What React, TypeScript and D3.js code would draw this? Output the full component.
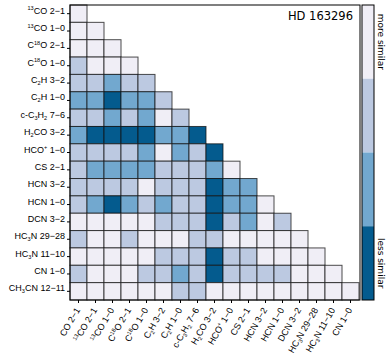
import React, { useEffect, useRef } from "react";
import * as d3 from "d3";

// molecule labels, ^{..} = superscript, _{..} = subscript
const rowLabels = [
  "^{13}CO 2−1", "^{13}CO 1−0", "C^{18}O 2−1", "C^{18}O 1−0",
  "C_{2}H 3−2", "C_{2}H 1−0", "c-C_{3}H_{2} 7−6", "H_{2}CO 3−2",
  "HCO^{+} 1−0", "CS 2−1", "HCN 3−2", "HCN 1−0", "DCN 3−2",
  "HC_{3}N 29−28", "HC_{3}N 11−10", "CN 1−0", "CH_{3}CN 12−11",
];
const colLabels = [
  "CO 2−1", "^{13}CO 2−1", "^{13}CO 1−0", "C^{18}O 2−1", "C^{18}O 1−0",
  "C_{2}H 3−2", "C_{2}H 1−0", "c-C_{3}H_{2} 7−6", "H_{2}CO 3−2",
  "HCO^{+} 1−0", "CS 2−1", "HCN 3−2", "HCN 1−0", "DCN 3−2",
  "HC_{3}N 29−28", "HC_{3}N 11−10", "CN 1−0",
];

// similarity class per cell (0 = more similar ... 3 = less similar), lower triangle
const similarity = [
  [0],
  [0, 0],
  [0, 0, 0],
  [1, 0, 0, 0],
  [1, 1, 2, 1, 1],
  [2, 2, 3, 2, 2, 1],
  [1, 1, 2, 1, 2, 0, 1],
  [2, 3, 3, 3, 3, 2, 2, 3],
  [1, 1, 1, 1, 2, 0, 2, 1, 3],
  [1, 2, 2, 2, 2, 1, 1, 1, 2, 0],
  [1, 1, 1, 1, 0, 1, 1, 1, 3, 2, 2],
  [1, 2, 3, 2, 1, 2, 1, 1, 3, 2, 2, 0],
  [0, 0, 0, 0, 0, 1, 1, 1, 3, 1, 2, 0, 1],
  [1, 0, 0, 1, 0, 0, 0, 1, 1, 0, 0, 0, 0, 0],
  [0, 0, 0, 0, 0, 1, 1, 1, 3, 1, 1, 0, 0, 0, 0],
  [1, 0, 0, 0, 1, 1, 2, 1, 3, 1, 1, 1, 1, 0, 0, 0],
  [0, 0, 0, 0, 0, 0, 1, 1, 0, 0, 0, 0, 0, 0, 0, 0, 0],
];

const levels = [0, 1, 2, 3];
const levelColors = ["#f0eef6", "#bcc9e1", "#72a8cf", "#045b8e"];
const title = "HD 163296";

const richText = (sel: any, str: string, fs: number) => {
  const re = /([\^_])\{([^}]*)\}|([^\^_]+)/g;
  let m: RegExpExecArray | null;
  let shift = 0;
  while ((m = re.exec(str)) !== null) {
    const t = sel.append("tspan");
    if (m[3] !== undefined) {
      t.attr("dy", -shift).text(m[3]);
      shift = 0;
    } else {
      const s = m[1] === "^" ? -fs * 0.38 : fs * 0.22;
      t.attr("dy", s - shift).attr("font-size", fs * 0.62).text(m[2]);
      shift = s;
    }
  }
};

const App = () => {
  const svgRef = useRef<SVGSVGElement>(null);

  useEffect(() => {
    const width = 391;
    const height = 361;
    const left = 70, right = 360, top = 5, bottom = 300;
    const fs = 9;

    const svg = d3.select(svgRef.current)
      .attr("width", width)
      .attr("height", height)
      .style("font-family", "'DejaVu Sans', sans-serif");
    svg.selectAll("*").remove();

    const x = d3.scaleBand().domain(colLabels).range([left, right - 1]);
    const y = d3.scaleBand().domain(rowLabels).range([top, bottom]);
    const color = d3.scaleOrdinal<number, string>().domain(levels).range(levelColors);

    svg.append("rect")
      .attr("x", left).attr("y", top)
      .attr("width", right - left).attr("height", bottom - top)
      .attr("fill", "white");

    const cells = similarity.flatMap((row, i) =>
      row.map((v, j) => ({ r: rowLabels[i], c: colLabels[j], v }))
    );

    svg.append("g")
      .selectAll("rect")
      .data(cells)
      .join("rect")
      .attr("x", d => x(d.c)!)
      .attr("y", d => y(d.r)!)
      .attr("width", x.bandwidth())
      .attr("height", y.bandwidth())
      .attr("fill", d => color(d.v))
      .attr("stroke", "#111")
      .attr("stroke-opacity", 0.75)
      .attr("stroke-width", 1);

    svg.append("rect")
      .attr("x", left).attr("y", top)
      .attr("width", right - left).attr("height", bottom - top)
      .attr("fill", "none").attr("stroke", "black").attr("stroke-width", 1);

    // row axis
    const gy = svg.append("g")
      .attr("transform", `translate(${left},0)`)
      .call(d3.axisLeft(y).tickSize(3).tickFormat(() => ""));
    gy.select(".domain").remove();
    gy.selectAll(".tick").each(function (d: any) {
      const t = d3.select(this).append("text")
        .attr("x", -5).attr("dy", "0.35em")
        .attr("text-anchor", "end")
        .attr("fill", "black")
        .attr("font-size", fs);
      richText(t, d, fs);
    });

    // column axis
    const gx = svg.append("g")
      .attr("transform", `translate(0,${bottom})`)
      .call(d3.axisBottom(x).tickSize(3).tickFormat(() => ""));
    gx.select(".domain").remove();
    gx.selectAll(".tick").each(function (d: any) {
      const t = d3.select(this).append("text")
        .attr("transform", "translate(2,10) rotate(-60)")
        .attr("text-anchor", "end")
        .attr("fill", "black")
        .attr("font-size", fs);
      richText(t, d, fs);
    });

    svg.append("text")
      .attr("x", 353).attr("y", 20)
      .attr("text-anchor", "end")
      .attr("font-size", 11.5)
      .text(title);

    // colorbar
    const cb = d3.scaleBand<number>().domain(levels).range([top, bottom]);
    const cbx = 362, cbw = 12;
    svg.append("g")
      .selectAll("rect")
      .data(levels)
      .join("rect")
      .attr("x", cbx).attr("y", d => cb(d)!)
      .attr("width", cbw).attr("height", cb.bandwidth())
      .attr("fill", d => color(d));
    svg.append("rect")
      .attr("x", cbx).attr("y", top)
      .attr("width", cbw).attr("height", bottom - top)
      .attr("fill", "none").attr("stroke", "black").attr("stroke-width", 1);

    const cbLabels = [{ l: 0, t: "more similar" }, { l: 3, t: "less similar" }];
    svg.append("g")
      .selectAll("text")
      .data(cbLabels)
      .join("text")
      .attr("transform", d => `translate(${cbx + cbw + 4},${cb(d.l)! + cb.bandwidth() / 2}) rotate(90)`)
      .attr("text-anchor", "middle")
      .attr("font-size", 9)
      .text(d => d.t);
  }, []);

  return <svg ref={svgRef} style={{ position: "absolute", left: 0, top: 0 }}></svg>;
};

export default App;
